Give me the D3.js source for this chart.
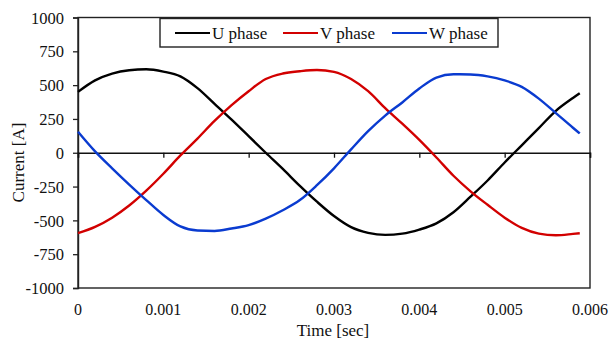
<!DOCTYPE html>
<html>
<head>
<meta charset="utf-8">
<script src="https://cdn.jsdelivr.net/npm/d3@7/dist/d3.min.js"></script>
<style>
  html, body { margin: 0; padding: 0; background: #fff; }
  svg { display: block; }
</style>
</head>
<body>
<svg id="chart" width="613" height="341"></svg>
<script>
// ---- data (time in seconds, current in A) ----
const times = [0, 0.0002, 0.0004, 0.0006, 0.0008, 0.0010, 0.0012, 0.0014, 0.0016, 0.0018,
               0.0020, 0.0022, 0.0024, 0.0026, 0.0028, 0.0030, 0.0032, 0.0034, 0.0036, 0.0038,
               0.0040, 0.0042, 0.0044, 0.0046, 0.0048, 0.0050, 0.0052, 0.0054, 0.0056, 0.0058, 0.00588];
const uPhase = [450, 535, 585, 610, 617, 600, 565, 478, 362, 245,
                123, 0, -120, -245, -362, -468, -550, -592, -607, -598,
                -568, -522, -440, -325, -205, -72, 55, 182, 310, 405, 440];
const vPhase = [-595, -548, -480, -390, -280, -155, -20, 105, 235, 352,
                455, 545, 586, 603, 612, 598, 545, 455, 330, 215,
                95, -35, -170, -285, -385, -480, -556, -598, -610, -600, -595];
const wPhase = [155, 10, -115, -235, -350, -460, -545, -575, -578, -560,
                -535, -487, -425, -350, -240, -115, 25, 160, 275, 372,
                475, 556, 580, 579, 565, 535, 487, 400, 293, 185, 143];
const seriesNames = ["U phase", "V phase", "W phase"];
const seriesColors = ["#000000", "#d20000", "#0a3bd0"];
const xTickValues = [0, 0.001, 0.002, 0.003, 0.004, 0.005, 0.006];
const xTickLabels = ["0", "0.001", "0.002", "0.003", "0.004", "0.005", "0.006"];
const yTickValues = [1000, 750, 500, 250, 0, -250, -500, -750, -1000];
const yTickLabels = ["1000", "750", "500", "250", "0", "-250", "-500", "-750", "-1000"];
const xTitle = "Time [sec]";
const yTitle = "Current [A]";

const FONT = "Liberation Serif";

// ---- layout ----
const svg = d3.select("#chart");
const L = 78, R = 590, T = 17.5, B = 288;
const x = d3.scaleLinear().domain([0, 0.006]).range([L, R]);
const y = d3.scaleLinear().domain([-1000, 1000]).range([B, T]);

// plot frame
svg.append("rect").attr("x", L).attr("y", T).attr("width", R - L).attr("height", B - T)
  .attr("fill", "none").attr("stroke", "#222").attr("stroke-width", 1.4);

// y axis
const yAxis = svg.append("g").attr("transform", `translate(${L},0)`)
  .call(d3.axisLeft(y).tickValues(yTickValues).tickSize(5).tickPadding(9)
        .tickFormat((d, i) => yTickLabels[i]));
yAxis.attr("font-family", null).attr("font-size", null);
yAxis.select(".domain").attr("stroke", "#222").attr("stroke-width", 1.4);
yAxis.selectAll(".tick line").attr("stroke", "#222").attr("stroke-width", 1.3);
yAxis.selectAll(".tick text").style("font-family", FONT).style("font-size", "16.5px")
  .attr("fill", "#111").attr("dy", "0.34em");

// x axis ticks on the zero line
const xAxis = svg.append("g").attr("transform", `translate(0,${y(0)})`)
  .call(d3.axisBottom(x).tickValues(xTickValues).tickSize(5).tickFormat(""));
xAxis.select(".domain").attr("stroke", "#111").attr("stroke-width", 1.5);
xAxis.selectAll(".tick line").attr("stroke", "#111").attr("stroke-width", 1.3);

// x labels at the bottom
svg.append("g").selectAll("text").data(xTickValues).join("text")
  .attr("x", d => x(d)).attr("y", 314.5).attr("text-anchor", "middle")
  .style("font-family", FONT).style("font-size", "16px").attr("fill", "#111")
  .text((d, i) => xTickLabels[i]);

// axis titles
svg.append("text").attr("x", 333).attr("y", 336).attr("text-anchor", "middle")
  .style("font-family", FONT).style("font-size", "17px").attr("fill", "#111").text(xTitle);
svg.append("text").attr("transform", "translate(23.5,162.5) rotate(-90)").attr("text-anchor", "middle")
  .style("font-family", FONT).style("font-size", "17px").attr("fill", "#111").text(yTitle);

// series
const allSeries = [uPhase, vPhase, wPhase];
const line = d3.line().x((d, i) => x(times[i])).y(d => y(d)).curve(d3.curveMonotoneX);
allSeries.forEach((s, k) => {
  svg.append("path").datum(s).attr("d", line).attr("fill", "none")
    .attr("stroke", seriesColors[k]).attr("stroke-width", 2.4).attr("stroke-linejoin", "round");
});

// legend
const lg = svg.append("g");
lg.append("rect").attr("x", 160).attr("y", 18.5).attr("width", 338).attr("height", 28.5)
  .attr("fill", "#fff").attr("stroke", "#222").attr("stroke-width", 1.4);
const legendX = [175, 283, 392];
seriesNames.forEach((n, k) => {
  lg.append("line").attr("x1", legendX[k]).attr("x2", legendX[k] + 35)
    .attr("y1", 33).attr("y2", 33).attr("stroke", seriesColors[k]).attr("stroke-width", 2);
  lg.append("text").attr("x", legendX[k] + 37).attr("y", 39)
    .style("font-family", FONT).style("font-size", "17px").attr("fill", "#111").text(n);
});
</script>
</body>
</html>
